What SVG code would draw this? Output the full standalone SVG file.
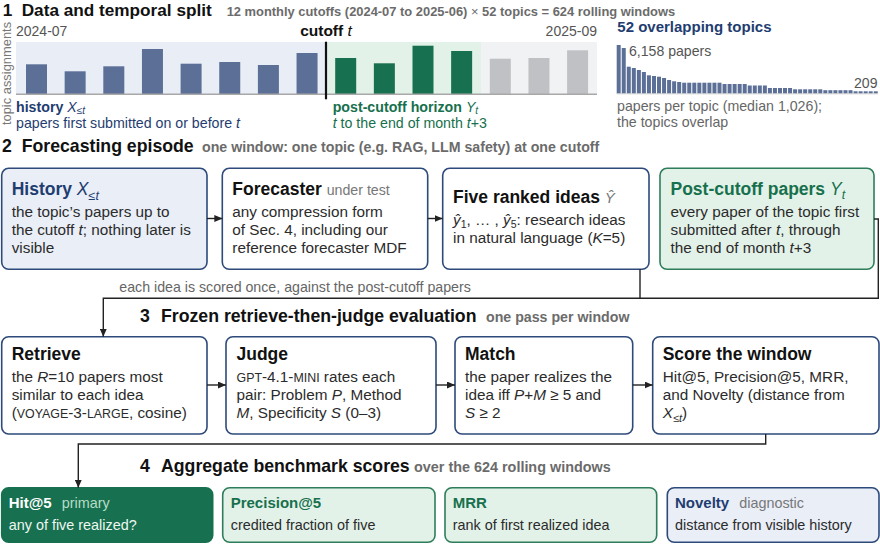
<svg xmlns="http://www.w3.org/2000/svg" width="880" height="544" viewBox="0 0 880 544">
<defs>
<marker id="ah" markerWidth="8" markerHeight="7" refX="8" refY="3.5" orient="auto" markerUnits="userSpaceOnUse"><path d="M0,0 L8,3.5 L0,7 z" fill="#222"/></marker>
<style>
text{font-family:"Liberation Sans",Arial,Helvetica,sans-serif;fill:#2b2b2b}
.h{font-size:17.7px;font-weight:bold;fill:#111}
.sub{font-size:14.2px;font-weight:bold;fill:#6b6b6b}
.tt{font-size:17.5px;font-weight:bold;fill:#111}
.bd{font-size:15.3px;fill:#2b2b2b}
.i{font-style:italic}
.blue{fill:#1f3d70}
.green{fill:#17704d}
.bb{fill:#5b6f97}
.gb{fill:#17704f}
.xb{fill:#bfc1c4}
.wbox{fill:#fff;stroke:#2d4a7a;stroke-width:1.6}
.bbox{fill:#e9eef7;stroke:#2d4a7a;stroke-width:1.6}
.gbox{fill:#e3f2e8;stroke:#2e7d5b;stroke-width:1.6}
.dbox{fill:#17704f;stroke:#17704f;stroke-width:1.6}
.t4{font-size:15px;font-weight:bold}
.b4{font-size:14.4px}
.conn{fill:none;stroke:#222;stroke-width:1.4}
</style>
</defs>
<rect width="880" height="544" fill="#fff"/>

<g id="section1">
<text x="2.7" y="15.5" class="h" style="font-size:17.2px">1</text>
<text x="21.7" y="15.5" class="h" style="font-size:17.2px">Data and temporal split</text>
<text x="226.7" y="15.5" class="sub" style="font-size:12.9px">12 monthly cutoffs (2024-07 to 2025-06) <tspan style="font-weight:normal">×</tspan> 52 topics = 624 rolling windows</text>
<text transform="translate(10.5,73.5) rotate(-90)" text-anchor="middle" style="font-size:12.9px;fill:#777">topic assignments</text>
<text x="16" y="35.5" style="font-size:14px;fill:#555">2024-07</text>
<text x="326" y="35.5" text-anchor="middle" style="font-size:15.5px;font-weight:bold;fill:#111">cutoff <tspan class="i" style="font-weight:normal">t</tspan></text>
<text x="597" y="35.5" text-anchor="end" style="font-size:14px;fill:#555">2025-09</text>
<rect x="16" y="42" width="310" height="52" fill="#e9edf6"/>
<rect x="326" y="42" width="155" height="52" fill="#e3f2e8"/>
<rect x="481" y="42" width="116" height="52" fill="#f1f2f4"/>
<g id="bars">
<rect class="bb" x="26" y="64.3" width="21" height="29.7"/>
<rect class="bb" x="64.65" y="71.3" width="21" height="22.7"/>
<rect class="bb" x="103.3" y="66.3" width="21" height="27.7"/>
<rect class="bb" x="141.95" y="49" width="21" height="45"/>
<rect class="bb" x="180.6" y="63.7" width="21" height="30.3"/>
<rect class="bb" x="219.25" y="62" width="21" height="32"/>
<rect class="bb" x="257.9" y="65" width="21" height="29"/>
<rect class="bb" x="296.55" y="53" width="21" height="41"/>
<rect class="gb" x="335.2" y="58" width="21" height="36"/>
<rect class="gb" x="373.85" y="63.3" width="21" height="30.7"/>
<rect class="gb" x="412.5" y="45.7" width="21" height="48.3"/>
<rect class="gb" x="451.15" y="51" width="21" height="43"/>
<rect class="xb" x="489.8" y="58.7" width="21" height="35.3"/>
<rect class="xb" x="528.45" y="58" width="21" height="36"/>
<rect class="xb" x="567.1" y="50.3" width="21" height="43.7"/>
</g>
<line x1="16" y1="94.3" x2="597" y2="94.3" stroke="#a8a8a8" stroke-width="1.4"/>
<line x1="326" y1="41.7" x2="326" y2="99.3" stroke="#111" stroke-width="2.2"/>
<text x="16" y="111.5" style="font-size:14.2px;font-weight:bold" class="blue">history <tspan class="i" style="font-weight:normal">X</tspan><tspan style="font-weight:normal;font-size:10px" dy="2.5">≤</tspan><tspan class="i" style="font-weight:normal;font-size:10px">t</tspan></text>
<text x="16" y="127.5" style="font-size:14.2px" class="blue">papers first submitted on or before <tspan class="i">t</tspan></text>
<text x="332.7" y="111.5" style="font-size:14.2px;font-weight:bold" class="green">post-cutoff horizon <tspan class="i" style="font-weight:normal">Y</tspan><tspan class="i" style="font-weight:normal;font-size:10px" dy="2">t</tspan></text>
<text x="332.7" y="127.5" style="font-size:14.2px" class="green"><tspan class="i">t</tspan> to the end of month <tspan class="i">t</tspan>+3</text>
</g>

<g id="topics-chart">
<text x="617.3" y="31.7" style="font-size:15px;font-weight:bold" class="blue">52 overlapping topics</text>
<g class="bb">
<rect x="616.7" y="45" width="4" height="48.5"/>
<rect x="621.74" y="48" width="4" height="45.5"/>
<rect x="626.78" y="66.7" width="4" height="26.8"/>
<rect x="631.82" y="68" width="4" height="25.5"/>
<rect x="636.86" y="70" width="4" height="23.5"/>
<rect x="641.9" y="72" width="4" height="21.5"/>
<rect x="646.94" y="75.3" width="4" height="18.2"/>
<rect x="651.98" y="76" width="4" height="17.5"/>
<rect x="657.02" y="76.7" width="4" height="16.8"/>
<rect x="662.06" y="78" width="4" height="15.5"/>
<rect x="667.1" y="80" width="4" height="13.5"/>
<rect x="672.14" y="81.3" width="4" height="12.2"/>
<rect x="677.18" y="82" width="4" height="11.5"/>
<rect x="682.22" y="82.7" width="4" height="10.8"/>
<rect x="687.26" y="82.7" width="4" height="10.8"/>
<rect x="692.3" y="82.7" width="4" height="10.8"/>
<rect x="697.34" y="82.7" width="4" height="10.8"/>
<rect x="702.38" y="82.7" width="4" height="10.8"/>
<rect x="707.42" y="82.7" width="4" height="10.8"/>
<rect x="712.46" y="82.7" width="4" height="10.8"/>
<rect x="717.5" y="82.7" width="4" height="10.8"/>
<rect x="722.54" y="84" width="4" height="9.5"/>
<rect x="727.58" y="84" width="4" height="9.5"/>
<rect x="732.62" y="84" width="4" height="9.5"/>
<rect x="737.66" y="84" width="4" height="9.5"/>
<rect x="742.7" y="84" width="4" height="9.5"/>
<rect x="747.74" y="85.5" width="4" height="8"/>
<rect x="752.78" y="85.5" width="4" height="8"/>
<rect x="757.82" y="85.5" width="4" height="8"/>
<rect x="762.86" y="85.5" width="4" height="8"/>
<rect x="767.9" y="88" width="4" height="5.5"/>
<rect x="772.94" y="88" width="4" height="5.5"/>
<rect x="777.98" y="88" width="4" height="5.5"/>
<rect x="783.02" y="88" width="4" height="5.5"/>
<rect x="788.06" y="88" width="4" height="5.5"/>
<rect x="793.1" y="89.3" width="4" height="4.2"/>
<rect x="798.14" y="89.3" width="4" height="4.2"/>
<rect x="803.18" y="89.3" width="4" height="4.2"/>
<rect x="808.22" y="89.3" width="4" height="4.2"/>
<rect x="813.26" y="89.3" width="4" height="4.2"/>
<rect x="818.3" y="89.3" width="4" height="4.2"/>
<rect x="823.34" y="90.2" width="4" height="3.3"/>
<rect x="828.38" y="90.2" width="4" height="3.3"/>
<rect x="833.42" y="90.2" width="4" height="3.3"/>
<rect x="838.46" y="90.2" width="4" height="3.3"/>
<rect x="843.5" y="90.2" width="4" height="3.3"/>
<rect x="848.54" y="90.2" width="4" height="3.3"/>
<rect x="853.58" y="91.3" width="4" height="2.2"/>
<rect x="858.62" y="91.3" width="4" height="2.2"/>
<rect x="863.66" y="91.3" width="4" height="2.2"/>
<rect x="868.7" y="91.3" width="4" height="2.2"/>
<rect x="873.74" y="91.3" width="4" height="2.2"/>
</g>
<line x1="616.7" y1="93.8" x2="878" y2="93.8" stroke="#c8c8c8" stroke-width="0.8"/>
<text x="629" y="56" style="font-size:14.1px;fill:#555">6,158 papers</text>
<text x="877.5" y="87.5" text-anchor="end" style="font-size:14.1px;fill:#555">209</text>
<text x="617" y="111" style="font-size:14.2px;fill:#666">papers per topic (median 1,026);</text>
<text x="617" y="127" style="font-size:14.2px;fill:#666">the topics overlap</text>
</g>

<g id="section2">
<text x="2" y="151.7" class="h">2</text>
<text x="21.7" y="151.7" class="h">Forecasting episode</text>
<text x="202" y="151.7" class="sub">one window: one topic (e.g. RAG, LLM safety) at one cutoff</text>
</g>

<g id="history">
<rect class="bbox" x="1.7" y="168.3" width="205.3" height="101" rx="7"/>
<text x="11.7" y="195" class="tt blue">History <tspan class="i" style="font-weight:normal">X</tspan><tspan style="font-weight:normal;font-size:12.5px" dy="4.5">≤</tspan><tspan class="i" style="font-weight:normal;font-size:12.5px">t</tspan></text>
<text x="11.7" y="216.7" class="bd">the topic’s papers up to</text>
<text x="11.7" y="235" class="bd">the cutoff <tspan class="i">t</tspan>; nothing later is</text>
<text x="11.7" y="253.3" class="bd">visible</text>
</g>

<g id="forecaster">
<rect class="wbox" x="222.3" y="168.3" width="205.4" height="101" rx="7"/>
<text x="232.3" y="195" class="tt">Forecaster <tspan style="font-weight:normal;font-size:14.2px;fill:#777">under test</tspan></text>
<text x="232.3" y="216.7" class="bd">any compression form</text>
<text x="232.3" y="235" class="bd">of Sec. 4, including our</text>
<text x="232.3" y="253.3" class="bd">reference forecaster MDF</text>
</g>

<g id="ideas">
<rect class="wbox" x="442.7" y="168.3" width="206.3" height="101" rx="7"/>
<text x="453" y="203.3" class="tt">Five ranked ideas <tspan class="i" style="font-weight:normal;font-size:15px;fill:#777">Ŷ</tspan></text>
<text x="453" y="225" class="bd"><tspan class="i">ŷ</tspan><tspan style="font-size:10.5px" dy="3">1</tspan><tspan dy="-3">, … , </tspan><tspan class="i">ŷ</tspan><tspan style="font-size:10.5px" dy="3">5</tspan><tspan dy="-3">:  research ideas</tspan></text>
<text x="453" y="243.3" class="bd">in natural language (<tspan class="i">K</tspan>=5)</text>
</g>

<g id="postcutoff">
<rect class="gbox" x="660" y="168.3" width="214" height="101" rx="7"/>
<text x="670.5" y="195" class="tt green">Post-cutoff papers <tspan class="i" style="font-weight:normal">Y</tspan><tspan class="i" style="font-weight:normal;font-size:12.5px" dy="4">t</tspan></text>
<text x="670.5" y="216.7" class="bd">every paper of the topic first</text>
<text x="670.5" y="235" class="bd">submitted after <tspan class="i">t</tspan>, through</text>
<text x="670.5" y="253.3" class="bd">the end of month <tspan class="i">t</tspan>+3</text>
</g>

<g id="section3">
<text x="140" y="321.7" class="h">3</text>
<text x="161" y="321.7" class="h">Frozen retrieve-then-judge evaluation</text>
<text x="486" y="321.7" class="sub">one pass per window</text>
</g>

<g id="retrieve">
<rect class="wbox" x="1.7" y="336.7" width="205.3" height="97.3" rx="7"/>
<text x="11.7" y="360" class="tt">Retrieve</text>
<text x="11.7" y="381.7" class="bd">the <tspan class="i">R</tspan>=10 papers most</text>
<text x="11.7" y="400" class="bd">similar to each idea</text>
<text x="11.7" y="418.3" class="bd">(<tspan style="font-size:12.4px">VOYAGE</tspan>-3-<tspan style="font-size:12.4px">LARGE</tspan>, cosine)</text>
</g>

<g id="judge">
<rect class="wbox" x="226" y="336.7" width="210" height="97.3" rx="7"/>
<text x="236.5" y="360" class="tt">Judge</text>
<text x="236.5" y="381.7" class="bd"><tspan style="font-size:12.4px">GPT</tspan>-4.1-<tspan style="font-size:12.4px">MINI</tspan> rates each</text>
<text x="236.5" y="400" class="bd">pair:  Problem <tspan class="i">P</tspan>, Method</text>
<text x="236.5" y="418.3" class="bd"><tspan class="i">M</tspan>, Specificity <tspan class="i">S</tspan> (0–3)</text>
</g>

<g id="match">
<rect class="wbox" x="455" y="336.7" width="177.7" height="97.3" rx="7"/>
<text x="465" y="360" class="tt">Match</text>
<text x="465" y="381.7" class="bd">the paper realizes the</text>
<text x="465" y="400" class="bd">idea iff <tspan class="i">P</tspan>+<tspan class="i">M</tspan> ≥ 5 and</text>
<text x="465" y="418.3" class="bd"><tspan class="i">S</tspan> ≥ 2</text>
</g>

<g id="score">
<rect class="wbox" x="652.7" y="336.7" width="226.3" height="97.3" rx="7"/>
<text x="662.7" y="360" class="tt">Score the window</text>
<text x="662.7" y="381.7" class="bd">Hit@5, Precision@5, MRR,</text>
<text x="662.7" y="400" class="bd">and Novelty (distance from</text>
<text x="662.7" y="418.3" class="bd"><tspan class="i">X</tspan><tspan style="font-size:11px" dy="4">≤</tspan><tspan class="i" style="font-size:11px">t</tspan><tspan dy="-4">)</tspan></text>
</g>

<g id="section4">
<text x="140" y="471.7" class="h">4</text>
<text x="161" y="471.7" class="h">Aggregate benchmark scores</text>
<text x="414" y="471.7" class="sub" style="font-size:14.4px">over the 624 rolling windows</text>
</g>

<g id="hit5">
<rect class="dbox" x="1.7" y="487.7" width="211" height="54.6" rx="7"/>
<text x="8.7" y="508.3" class="t4" style="fill:#fff">Hit@5<tspan dx="10" style="font-weight:normal;font-size:14.4px;fill:#b6dcc6">primary</tspan></text>
<text x="8.7" y="530" class="b4" style="fill:#eef7f1">any of five realized?</text>
</g>

<g id="precision5">
<rect class="gbox" x="222.7" y="487.7" width="212.3" height="54.6" rx="7"/>
<text x="230.7" y="508.3" class="t4 green">Precision@5</text>
<text x="230.7" y="530" class="b4">credited fraction of five</text>
</g>

<g id="mrr">
<rect class="gbox" x="445" y="487.7" width="211.7" height="54.6" rx="7"/>
<text x="452.7" y="508.3" class="t4 green">MRR</text>
<text x="452.7" y="530" class="b4">rank of first realized idea</text>
</g>

<g id="novelty">
<rect class="bbox" x="667.3" y="487.7" width="211.7" height="54.6" rx="7"/>
<text x="675" y="508.3" class="t4 blue">Novelty<tspan dx="10" style="font-weight:normal;font-size:14.4px;fill:#777">diagnostic</tspan></text>
<text x="675" y="530" class="b4">distance from visible history</text>
</g>

<g id="connectors">
<line class="conn" x1="207" y1="218.5" x2="222.3" y2="218.5" marker-end="url(#ah)"/>
<line class="conn" x1="427.7" y1="218.5" x2="442.7" y2="218.5" marker-end="url(#ah)"/>
<path class="conn" d="M640,269.3 V298.3"/>
<path class="conn" d="M874,219 H878.3 V298.3 H103.3 V336.7" marker-end="url(#ah)"/>
<text x="119.3" y="291.5" style="font-size:14.2px;fill:#666">each idea is scored once, against the post-cutoff papers</text>
<line class="conn" x1="207" y1="385" x2="226" y2="385" marker-end="url(#ah)"/>
<line class="conn" x1="436" y1="385" x2="455" y2="385" marker-end="url(#ah)"/>
<line class="conn" x1="632.7" y1="385" x2="652.7" y2="385" marker-end="url(#ah)"/>
<path class="conn" d="M765.7,434 V444 H78.3 V487.7" marker-end="url(#ah)"/>
</g>
</svg>
